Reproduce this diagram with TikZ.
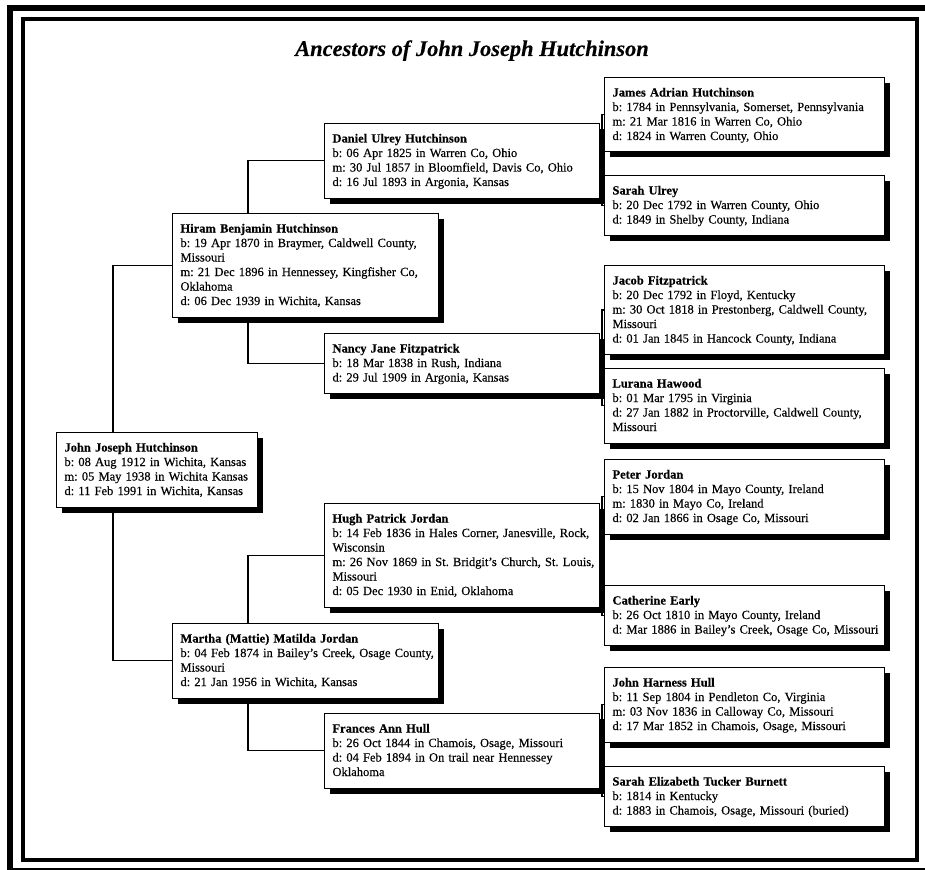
\documentclass[tikz,border=0pt]{standalone}
\usepackage{fontspec}
\setmainfont{Liberation Serif}[UprightFeatures={FakeBold=0.3},BoldFeatures={FakeBold=0.3},ItalicFeatures={FakeBold=0.2},BoldItalicFeatures={FakeBold=0.2}]
\usetikzlibrary{shadows}
\frenchspacing
\newcommand{\sr}{\rule[-3.75pt]{0pt}{14.5pt}}
\newcommand{\Lx}[1]{\mbox{\sr#1}}
\newcommand{\Nm}[1]{\mbox{\sr\textbf{#1}}}
\newcommand{\fs}{\fontsize{12.5}{14.5}\selectfont\frenchspacing}
\tikzset{
  pbox/.style={draw=black, line width=1pt, fill=white, anchor=north west,
    align=left, inner xsep=8pt, inner ysep=8.25pt, font=\fs,
    general shadow={fill=black, shadow xshift=5.5pt, shadow yshift=-5.5pt}},
  g0/.style={pbox, text width=185pt},
  g1/.style={pbox, text width=250pt},
  g2/.style={pbox, text width=259pt},
  g3/.style={pbox, text width=264pt},
  conn/.style={draw=black, line width=1.2pt},
  frameouter/.style={draw=black, line width=6pt},
  frameinner/.style={draw=black, line width=4pt}
}
\begin{document}
\begin{tikzpicture}[x=1pt,y=-1pt]
\useasboundingbox (0,0) rectangle (925,869);
% frame
\draw[frameouter] (10,8.5) rectangle (932,871);
\draw[frameinner] (23,19.5) rectangle (917,860);
% title
\node[font=\bfseries\itshape\fontsize{22.4}{26}\selectfont, anchor=base] (title) at (472,56) {Ancestors of John Joseph Hutchinson};
% column coordinates
\coordinate (c0) at (113,0);
\coordinate (c1) at (248,0);
\coordinate (c2) at (602,0);
% generation 0
\node[g0] (root) at (56,432) {\Nm{John Joseph Hutchinson}\\\Lx{b: 08 Aug 1912 in Wichita, Kansas}\\\Lx{m: 05 May 1938 in Wichita Kansas}\\\Lx{d: 11 Feb 1991 in Wichita, Kansas}};
% generation 1
\node[g1] (hiram) at (172,213) {\Nm{Hiram Benjamin Hutchinson}\\\Lx{b: 19 Apr 1870 in Braymer, Caldwell County,}\\\Lx{Missouri}\\\Lx{m: 21 Dec 1896 in Hennessey, Kingfisher Co,}\\\Lx{Oklahoma}\\\Lx{d: 06 Dec 1939 in Wichita, Kansas}};
\node[g1] (martha) at (172,623) {\Nm{Martha (Mattie) Matilda Jordan}\\\Lx{b: 04 Feb 1874 in Bailey's Creek, Osage County,}\\\Lx{Missouri}\\\Lx{d: 21 Jan 1956 in Wichita, Kansas}};
% generation 2
\node[g2] (daniel) at (324,123) {\Nm{Daniel Ulrey Hutchinson}\\\Lx{b: 06 Apr 1825 in Warren Co, Ohio}\\\Lx{m: 30 Jul 1857 in Bloomfield, Davis Co, Ohio}\\\Lx{d: 16 Jul 1893 in Argonia, Kansas}};
\node[g2] (nancy) at (324,333) {\Nm{Nancy Jane Fitzpatrick}\\\Lx{b: 18 Mar 1838 in Rush, Indiana}\\\Lx{d: 29 Jul 1909 in Argonia, Kansas}};
\node[g2] (hugh) at (324,503) {\Nm{Hugh Patrick Jordan}\\\Lx{b: 14 Feb 1836 in Hales Corner, Janesville, Rock,}\\\Lx{Wisconsin}\\\Lx{m: 26 Nov 1869 in St. Bridgit's Church, St. Louis,}\\\Lx{Missouri}\\\Lx{d: 05 Dec 1930 in Enid, Oklahoma}};
\node[g2] (frances) at (324,713) {\Nm{Frances Ann Hull}\\\Lx{b: 26 Oct 1844 in Chamois, Osage, Missouri}\\\Lx{d: 04 Feb 1894 in On trail near Hennessey}\\\Lx{Oklahoma}};
% generation 3
\node[g3] (james) at (604,77) {\Nm{James Adrian Hutchinson}\\\Lx{b: 1784 in Pennsylvania, Somerset, Pennsylvania}\\\Lx{m: 21 Mar 1816 in Warren Co, Ohio}\\\Lx{d: 1824 in Warren County, Ohio}};
\node[g3] (sarahu) at (604,175) {\Nm{Sarah Ulrey}\\\Lx{b: 20 Dec 1792 in Warren County, Ohio}\\\Lx{d: 1849 in Shelby County, Indiana}};
\node[g3] (jacob) at (604,265) {\Nm{Jacob Fitzpatrick}\\\Lx{b: 20 Dec 1792 in Floyd, Kentucky}\\\Lx{m: 30 Oct 1818 in Prestonberg, Caldwell County,}\\\Lx{Missouri}\\\Lx{d: 01 Jan 1845 in Hancock County, Indiana}};
\node[g3] (lurana) at (604,368) {\Nm{Lurana Hawood}\\\Lx{b: 01 Mar 1795 in Virginia}\\\Lx{d: 27 Jan 1882 in Proctorville, Caldwell County,}\\\Lx{Missouri}};
\node[g3] (peter) at (604,459) {\Nm{Peter Jordan}\\\Lx{b: 15 Nov 1804 in Mayo County, Ireland}\\\Lx{m: 1830 in Mayo Co, Ireland}\\\Lx{d: 02 Jan 1866 in Osage Co, Missouri}};
\node[g3] (catherine) at (604,585) {\Nm{Catherine Early}\\\Lx{b: 26 Oct 1810 in Mayo County, Ireland}\\\Lx{d: Mar 1886 in Bailey's Creek, Osage Co, Missouri}};
\node[g3] (johnh) at (604,667) {\Nm{John Harness Hull}\\\Lx{b: 11 Sep 1804 in Pendleton Co, Virginia}\\\Lx{m: 03 Nov 1836 in Calloway Co, Missouri}\\\Lx{d: 17 Mar 1852 in Chamois, Osage, Missouri}};
\node[g3] (sarahb) at (604,766) {\Nm{Sarah Elizabeth Tucker Burnett}\\\Lx{b: 1814 in Kentucky}\\\Lx{d: 1883 in Chamois, Osage, Missouri (buried)}};
% connectors
\draw[conn] (hiram.west) -| (c0 |- root.north);
\draw[conn] (martha.west) -| (c0 |- root.south);
\draw[conn] (daniel.west) -| (c1 |- hiram.north);
\draw[conn] (nancy.west) -| (c1 |- hiram.south);
\draw[conn] (hugh.west) -| (c1 |- martha.north);
\draw[conn] (frances.west) -| (c1 |- martha.south);
\draw[conn] (daniel.east) -- (c2 |- daniel.east);
\draw[conn] (james.west) -| (c2 |- daniel.east) |- (sarahu.west);
\draw[conn] (nancy.east) -- (c2 |- nancy.east);
\draw[conn] (jacob.west) -| (c2 |- nancy.east) |- (lurana.west);
\draw[conn] (hugh.east) -- (c2 |- hugh.east);
\draw[conn] (peter.west) -| (c2 |- hugh.east) |- (catherine.west);
\draw[conn] (frances.east) -- (c2 |- frances.east);
\draw[conn] (johnh.west) -| (c2 |- frances.east) |- (sarahb.west);
\end{tikzpicture}
\end{document}
